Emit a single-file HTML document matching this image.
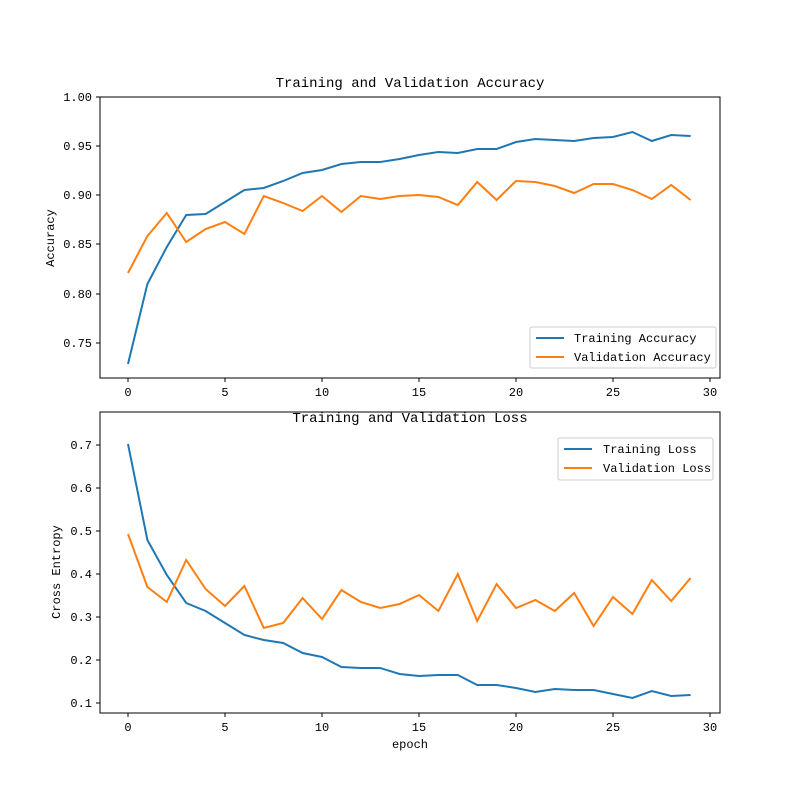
<!DOCTYPE html>
<html><head><meta charset="utf-8"><style>
html,body{margin:0;padding:0;background:#fff;}
svg text{font-family:"Liberation Mono","WenQuanYi Zen Hei",monospace;fill:#000;}
</style></head><body>
<svg width="800" height="800" viewBox="0 0 800 800" xmlns="http://www.w3.org/2000/svg">
<rect width="800" height="800" fill="#fff"/>
<text x="410" y="87" font-size="14" text-anchor="middle">Training and Validation Accuracy</text>
<g font-size="12" text-anchor="end">
<line x1="96" y1="97" x2="100" y2="97" stroke="#000"/><text x="92" y="101">1.00</text>
<line x1="96" y1="146" x2="100" y2="146" stroke="#000"/><text x="92" y="150">0.95</text>
<line x1="96" y1="195" x2="100" y2="195" stroke="#000"/><text x="92" y="199">0.90</text>
<line x1="96" y1="244" x2="100" y2="244" stroke="#000"/><text x="92" y="248">0.85</text>
<line x1="96" y1="294" x2="100" y2="294" stroke="#000"/><text x="92" y="298">0.80</text>
<line x1="96" y1="343" x2="100" y2="343" stroke="#000"/><text x="92" y="347">0.75</text>
</g>
<g font-size="12" text-anchor="middle">
<line x1="128" y1="378" x2="128" y2="382" stroke="#000"/><text x="128" y="396">0</text>
<line x1="225" y1="378" x2="225" y2="382" stroke="#000"/><text x="225" y="396">5</text>
<line x1="322" y1="378" x2="322" y2="382" stroke="#000"/><text x="322" y="396">10</text>
<line x1="419" y1="378" x2="419" y2="382" stroke="#000"/><text x="419" y="396">15</text>
<line x1="516" y1="378" x2="516" y2="382" stroke="#000"/><text x="516" y="396">20</text>
<line x1="613" y1="378" x2="613" y2="382" stroke="#000"/><text x="613" y="396">25</text>
<line x1="710" y1="378" x2="710" y2="382" stroke="#000"/><text x="710" y="396">30</text>
</g>
<text x="54" y="238" font-size="12" text-anchor="middle" transform="rotate(-90 54 238)">Accuracy</text>
<polyline fill="none" stroke="#1f77b4" stroke-width="2" points="128,364 147.4,284 166.8,247 186.2,215 205.6,214 225,202 244.4,190 263.8,188 283.2,181 302.6,173 322,170 341.4,164 360.8,162 380.2,162 399.6,159 419,155 438.4,152 457.8,153 477.2,149 496.6,149 516,142 535.4,139 554.8,140 574.2,141 593.6,138 613,137 632.4,132 651.8,141 671.2,135 690.6,136"/>
<polyline fill="none" stroke="#ff7f0e" stroke-width="2" points="128,273 147.4,236 166.8,213 186.2,242 205.6,229 225,222 244.4,234 263.8,196 283.2,203 302.6,211 322,196 341.4,212 360.8,196 380.2,199 399.6,196 419,195 438.4,197 457.8,205 477.2,182 496.6,200 516,181 535.4,182 554.8,186 574.2,193 593.6,184 613,184 632.4,190 651.8,199 671.2,185 690.6,200"/>
<rect x="100" y="97" width="620" height="281" fill="none" stroke="#000" stroke-width="1"/>
<rect x="530" y="327" width="186" height="41" rx="2" fill="#fff" stroke="#ccc"/>
<line x1="536" y1="338" x2="564" y2="338" stroke="#1f77b4" stroke-width="2"/>
<text x="574" y="342" font-size="12">Training Accuracy</text>
<line x1="536" y1="357" x2="564" y2="357" stroke="#ff7f0e" stroke-width="2"/>
<text x="574" y="361" font-size="12">Validation Accuracy</text>

<text x="410" y="422" font-size="14" text-anchor="middle">Training and Validation Loss</text>
<g font-size="12" text-anchor="end">
<line x1="96" y1="445" x2="100" y2="445" stroke="#000"/><text x="92" y="449">0.7</text>
<line x1="96" y1="488" x2="100" y2="488" stroke="#000"/><text x="92" y="492">0.6</text>
<line x1="96" y1="531" x2="100" y2="531" stroke="#000"/><text x="92" y="535">0.5</text>
<line x1="96" y1="574" x2="100" y2="574" stroke="#000"/><text x="92" y="578">0.4</text>
<line x1="96" y1="617" x2="100" y2="617" stroke="#000"/><text x="92" y="621">0.3</text>
<line x1="96" y1="660" x2="100" y2="660" stroke="#000"/><text x="92" y="664">0.2</text>
<line x1="96" y1="703" x2="100" y2="703" stroke="#000"/><text x="92" y="707">0.1</text>
</g>
<g font-size="12" text-anchor="middle">
<line x1="128" y1="713" x2="128" y2="717" stroke="#000"/><text x="128" y="731">0</text>
<line x1="225" y1="713" x2="225" y2="717" stroke="#000"/><text x="225" y="731">5</text>
<line x1="322" y1="713" x2="322" y2="717" stroke="#000"/><text x="322" y="731">10</text>
<line x1="419" y1="713" x2="419" y2="717" stroke="#000"/><text x="419" y="731">15</text>
<line x1="516" y1="713" x2="516" y2="717" stroke="#000"/><text x="516" y="731">20</text>
<line x1="613" y1="713" x2="613" y2="717" stroke="#000"/><text x="613" y="731">25</text>
<line x1="710" y1="713" x2="710" y2="717" stroke="#000"/><text x="710" y="731">30</text>
</g>
<text x="410" y="748" font-size="12" text-anchor="middle">epoch</text>
<text x="60" y="572" font-size="12" text-anchor="middle" transform="rotate(-90 60 572)">Cross Entropy</text>
<polyline fill="none" stroke="#1f77b4" stroke-width="2" points="128,444 147.4,540 166.8,575 186.2,603 205.6,611 225,623 244.4,635 263.8,640 283.2,643 302.6,653 322,657 341.4,667 360.8,668 380.2,668 399.6,674 419,676 438.4,675 457.8,675 477.2,685 496.6,685 516,688 535.4,692 554.8,689 574.2,690 593.6,690 613,694 632.4,698 651.8,691 671.2,696 690.6,695"/>
<polyline fill="none" stroke="#ff7f0e" stroke-width="2" points="128,534 147.4,587 166.8,602 186.2,560 205.6,589 225,606 244.4,586 263.8,628 283.2,623 302.6,598 322,619 341.4,590 360.8,602 380.2,608 399.6,604 419,595 438.4,611 457.8,574 477.2,621 496.6,584 516,608 535.4,600 554.8,611 574.2,593 593.6,626 613,597 632.4,614 651.8,580 671.2,601 690.6,578"/>
<rect x="100" y="412" width="620" height="301" fill="none" stroke="#000" stroke-width="1"/>
<rect x="558" y="438" width="155" height="42" rx="2" fill="#fff" stroke="#ccc"/>
<line x1="564" y1="449" x2="592" y2="449" stroke="#1f77b4" stroke-width="2"/>
<text x="603" y="453" font-size="12">Training Loss</text>
<line x1="564" y1="468" x2="592" y2="468" stroke="#ff7f0e" stroke-width="2"/>
<text x="603" y="472" font-size="12">Validation Loss</text>
</svg>
</body></html>
